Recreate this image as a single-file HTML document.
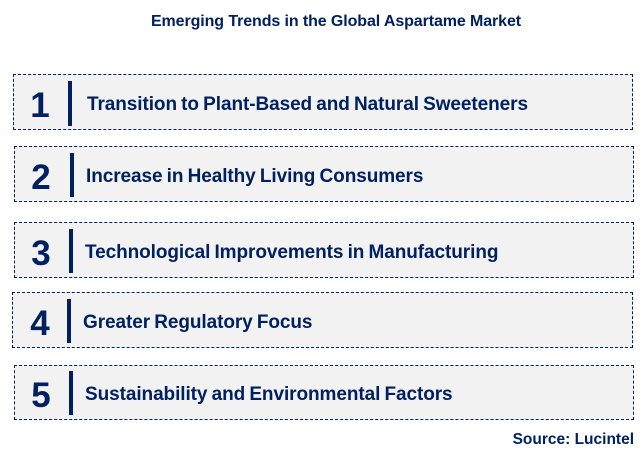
<!DOCTYPE html>
<html>
<head>
<meta charset="utf-8">
<style>
  html,body{margin:0;padding:0;background:#fff;}
  body{width:644px;height:455px;position:relative;overflow:hidden;font-family:"Liberation Sans",Arial,sans-serif;color:#002060;}
  .title{position:absolute;left:0;width:672px;top:13px;text-align:center;font-weight:bold;font-size:16px;letter-spacing:-0.1px;}
  .box{position:absolute;background:#f2f2f2;border:1px dashed #002060;box-sizing:border-box;}
  .num{position:absolute;font-weight:bold;font-size:35px;line-height:1;width:40px;text-align:center;}
  .bar{position:absolute;width:4px;background:#002060;}
  .txt{position:absolute;font-weight:bold;font-size:19px;line-height:1;white-space:nowrap;letter-spacing:-0.08px;word-spacing:-1px;}
  .src{position:absolute;right:10px;top:431px;font-weight:bold;font-size:15.5px;}
</style>
</head>
<body>
<div class="title">Emerging Trends in the Global Aspartame Market</div>

<div class="box" style="left:13px;top:74px;width:620px;height:56px;"></div>
<div class="num" style="left:20px;top:88px;">1</div>
<div class="bar" style="left:68px;top:81px;height:45px;"></div>
<div class="txt" style="left:87px;top:95px;">Transition to Plant-Based and Natural Sweeteners</div>

<div class="box" style="left:14px;top:146px;width:620px;height:56px;"></div>
<div class="num" style="left:21px;top:160px;">2</div>
<div class="bar" style="left:70px;top:153px;height:44px;"></div>
<div class="txt" style="left:86px;top:167px;">Increase in Healthy Living Consumers</div>

<div class="box" style="left:14px;top:222px;width:620px;height:56px;"></div>
<div class="num" style="left:21px;top:236px;">3</div>
<div class="bar" style="left:69px;top:229px;height:44px;"></div>
<div class="txt" style="left:85px;top:243px;">Technological Improvements in Manufacturing</div>

<div class="box" style="left:12px;top:292px;width:621px;height:56px;"></div>
<div class="num" style="left:20px;top:306px;">4</div>
<div class="bar" style="left:67px;top:299px;height:44px;"></div>
<div class="txt" style="left:83px;top:313px;">Greater Regulatory Focus</div>

<div class="box" style="left:14px;top:365px;width:620px;height:55px;"></div>
<div class="num" style="left:21px;top:378px;">5</div>
<div class="bar" style="left:69px;top:371px;height:44px;"></div>
<div class="txt" style="left:85px;top:385px;">Sustainability and Environmental Factors</div>

<div class="src">Source: Lucintel</div>
</body>
</html>
